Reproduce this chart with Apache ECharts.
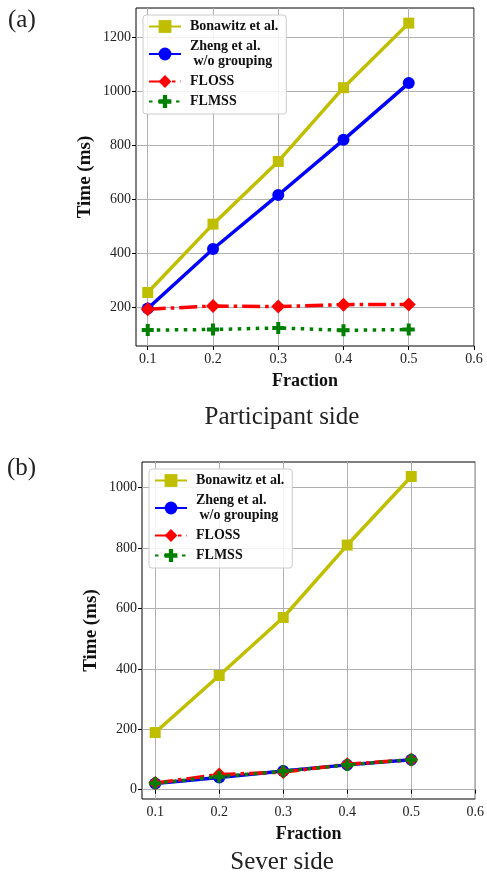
<!DOCTYPE html>
<html>
<head>
<meta charset="utf-8">
<script src="https://cdn.jsdelivr.net/npm/echarts@6/dist/echarts.min.js"></script>
<style>
  html, body { margin: 0; padding: 0; background: #fff; }
  #main { width: 487px; height: 876px; }
</style>
</head>
<body>
<div id="main"></div>
<script>
// data
const fractions = [0.1, 0.2, 0.3, 0.4, 0.5];
const seriesNames = ['Bonawitz et al.', 'Zheng et al. w/o grouping', 'FLOSS', 'FLMSS'];

// (a) participant side, ms
const bonawitzP = [255, 508, 740, 1013, 1252];
const zhengP = [196, 416, 616, 820, 1030];
const flossP = [193, 205, 203, 210, 211];
const flmssP = [116, 118, 124, 115, 118];

// (b) server side, ms
const bonawitzS = [189, 378, 570, 810, 1037];
const zhengS = [20, 40, 62, 82, 99];
const flossS = [22, 50, 58, 84, 99];
const flmssS = [21, 43, 61, 82, 99];

const xTicks = [0.1, 0.2, 0.3, 0.4, 0.5, 0.6];
const yTicksP = [200, 400, 600, 800, 1000, 1200];
const yTicksS = [0, 200, 400, 600, 800, 1000];

const FONT = '"Liberation Serif", "DejaVu Serif", serif';
const plusPath = 'path://M-1,-3H1V-1H3V1H1V3H-1V1H-3V-1H-1Z';

const styles = [
  { color: '#bfbf00', symbol: 'rect', size: 11, type: 'solid' },
  { color: '#0000ff', symbol: 'circle', size: 12, type: 'solid' },
  { color: '#ff0000', symbol: 'diamond', size: 14, type: [18, 5, 3.5, 5] },
  { color: '#008000', symbol: plusPath, size: 12, type: [3.5, 5.5] }
];

function pairs(ys) {
  return fractions.map((x, i) => [x, ys[i]]);
}

function makeSeries(idx, ys, gridIdx) {
  const s = styles[idx];
  return {
    name: seriesNames[idx],
    type: 'line',
    xAxisIndex: gridIdx,
    yAxisIndex: gridIdx,
    data: pairs(ys),
    symbol: s.symbol,
    symbolSize: s.size,
    showAllSymbol: true,
    itemStyle: { color: s.color, opacity: 1 },
    lineStyle: { color: s.color, width: 3.5, type: s.type, cap: 'butt' },
    emphasis: { disabled: true },
    animation: false
  };
}

function xAxisCfg(gridIdx) {
  return {
    type: 'value',
    gridIndex: gridIdx,
    min: gridIdx === 0 ? 0.082 : 0.0794,
    max: 0.6,
    name: 'Fraction',
    nameLocation: 'middle',
    nameGap: 26,
    nameTextStyle: { fontFamily: FONT, fontWeight: 'bold', fontSize: 18, color: '#111' },
    axisLine: { show: false },
    axisTick: { show: true, length: 4, customValues: xTicks, lineStyle: { color: '#000' } },
    axisLabel: { customValues: xTicks, margin: 6, fontFamily: FONT, fontSize: 14, color: '#222',
      formatter: v => v.toFixed(1) },
    splitLine: { show: true, lineStyle: { color: '#b0b0b0', width: 1 } }
  };
}

function yAxisCfg(gridIdx, min, max, ticks, gap) {
  return {
    type: 'value',
    gridIndex: gridIdx,
    min: min,
    max: max,
    name: 'Time (ms)',
    nameLocation: 'middle',
    nameGap: gap,
    nameMoveOverlap: false,
    nameTextStyle: { fontFamily: FONT, fontWeight: 'bold', fontSize: 19, color: '#111' },
    axisLine: { show: false },
    axisTick: { show: true, length: 4, customValues: ticks, lineStyle: { color: '#000' } },
    axisLabel: { customValues: ticks, margin: 5, fontFamily: FONT, fontSize: 14, color: '#222',
      formatter: v => String(Math.round(v)) },
    splitLine: { show: true, lineStyle: { color: '#b0b0b0', width: 1 } }
  };
}

function legendCfg(left, top) {
  return {
    orient: 'vertical',
    left: left,
    top: top,
    data: seriesNames,
    itemWidth: 32,
    itemHeight: 16,
    itemGap: 5,
    padding: [4, 8, 5, 5],
    backgroundColor: 'rgba(255,255,255,0.85)',
    borderColor: '#cccccc',
    borderWidth: 1,
    borderRadius: 3,
    selectedMode: false,
    formatter: n => n === seriesNames[1] ? 'Zheng et al.\n w/o grouping' : n,
    textStyle: { fontFamily: FONT, fontWeight: 'bold', fontSize: 14, color: '#111',
      lineHeight: 15, padding: [0, 0, 0, 4] }
  };
}

const chart = echarts.init(document.getElementById('main'), null, { renderer: 'canvas' });

const option = {
  backgroundColor: '#fff',
  animation: false,
  grid: [
    { left: 136, top: 8, width: 338, height: 338, show: true, borderColor: '#000', borderWidth: 1, backgroundColor: 'transparent' },
    { left: 142, top: 462, width: 339, height: 337, show: true, borderColor: '#000', borderWidth: 1, backgroundColor: 'transparent' }
  ],
  xAxis: [xAxisCfg(0), xAxisCfg(1)],
  yAxis: [
    yAxisCfg(0, 57, 1308, yTicksP, 41),
    yAxisCfg(1, -31, 1085, yTicksS, 41)
  ],
  legend: [legendCfg(143, 15), legendCfg(149, 469)],
  series: [
    makeSeries(0, bonawitzP, 0),
    makeSeries(1, zhengP, 0),
    makeSeries(2, flossP, 0),
    makeSeries(3, flmssP, 0),
    makeSeries(0, bonawitzS, 1),
    makeSeries(1, zhengS, 1),
    makeSeries(2, flossS, 1),
    makeSeries(3, flmssS, 1)
  ],
  graphic: [
    { type: 'text', left: 8, top: 8, style: { text: '(a)', font: '25px ' + FONT, fill: '#222' } },
    { type: 'text', left: 7, top: 456, style: { text: '(b)', font: '25px ' + FONT, fill: '#222' } },
    { type: 'text', x: 282, y: 417, style: { text: 'Participant side', font: '25px ' + FONT, fill: '#222', textAlign: 'center', textVerticalAlign: 'middle' } },
    { type: 'text', x: 282, y: 862, style: { text: 'Sever side', font: '25px ' + FONT, fill: '#222', textAlign: 'center', textVerticalAlign: 'middle' } }
  ]
};

chart.setOption(option);
</script>
</body>
</html>
